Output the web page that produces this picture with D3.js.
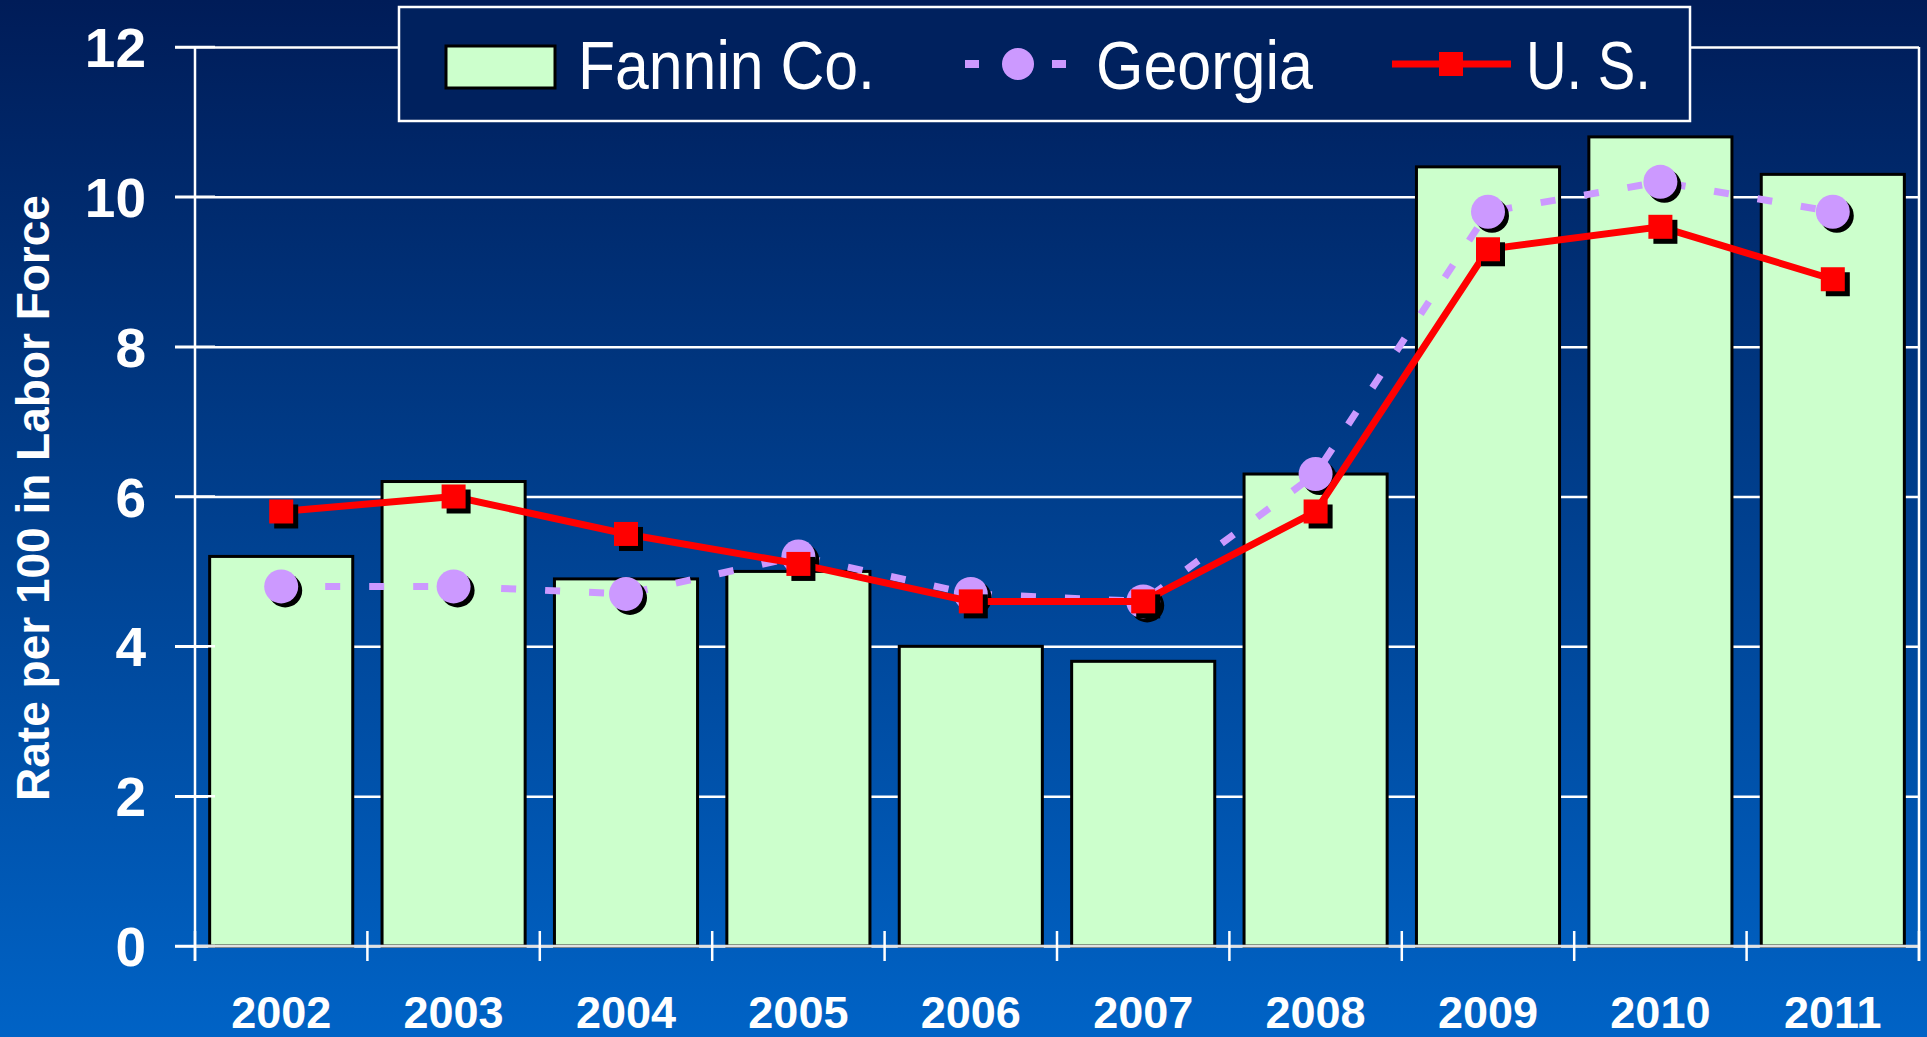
<!DOCTYPE html>
<html>
<head>
<meta charset="utf-8">
<script src="https://cdn.jsdelivr.net/npm/d3@7"></script>
<style>
  html, body { margin: 0; padding: 0; background: #0050a8; }
  svg { display: block; }
</style>
</head>
<body>
<svg id="chart" width="1927" height="1037"></svg>
<script>

// data
var years = ["2002", "2003", "2004", "2005", "2006", "2007", "2008", "2009", "2010", "2011"];
var fannin = [5.2, 6.2, 4.9, 5.0, 4.0, 3.8, 6.3, 10.4, 10.8, 10.3];
var georgia = [4.8, 4.8, 4.7, 5.2, 4.7, 4.6, 6.3, 9.8, 10.2, 9.8];
var us = [5.8, 6.0, 5.5, 5.1, 4.6, 4.6, 5.8, 9.3, 9.6, 8.9];
var yTicks = [0, 2, 4, 6, 8, 10, 12];

var svg = d3.select("#chart");
var W = 1927, H = 1037;

// plot area (note: "top" is reserved on window)
var plotLeft = 195, plotRight = 1919, plotTop = 47, plotBottom = 946;

// background gradient
var defs = svg.append("defs");
var grad = defs.append("linearGradient")
    .attr("id", "bg")
    .attr("x1", 0).attr("y1", 0)
    .attr("x2", 0).attr("y2", 1);
grad.append("stop").attr("offset", "0%").attr("stop-color", "#001c58");
grad.append("stop").attr("offset", "50%").attr("stop-color", "#00408f");
grad.append("stop").attr("offset", "100%").attr("stop-color", "#0063c6");

svg.append("rect")
    .attr("width", W).attr("height", H)
    .attr("fill", "url(#bg)");

var x = d3.scaleBand()
    .domain(years)
    .range([plotLeft, plotRight])
    .paddingInner(0.17)
    .paddingOuter(0.085);

var y = d3.scaleLinear()
    .domain([0, 12])
    .range([plotBottom, plotTop]);

// gridlines
var grid = svg.append("g")
    .attr("transform", "translate(" + plotLeft + ",0)")
    .call(d3.axisLeft(y).tickValues(yTicks).tickSize(0).tickFormat(""));
grid.select(".domain").remove();
grid.selectAll(".tick line")
    .attr("x1", -20)
    .attr("x2", plotRight - plotLeft)
    .attr("stroke", "white")
    .attr("stroke-width", 2.5);

// bars
svg.append("g")
    .selectAll("rect")
    .data(fannin)
    .join("rect")
    .attr("x", function (d, i) { return x(years[i]); })
    .attr("y", function (d) { return y(d); })
    .attr("width", x.bandwidth())
    .attr("height", function (d) { return y(0) - y(d); })
    .attr("fill", "#ccffcc")
    .attr("stroke", "black")
    .attr("stroke-width", 3);

// y tick stubs over bars
svg.append("g")
    .selectAll("line")
    .data(yTicks)
    .join("line")
    .attr("x1", plotLeft - 20)
    .attr("x2", plotLeft + 20)
    .attr("y1", function (d) { return y(d); })
    .attr("y2", function (d) { return y(d); })
    .attr("stroke", "white")
    .attr("stroke-width", 2.5);

// y axis line and right border
svg.append("line")
    .attr("x1", plotLeft).attr("x2", plotLeft)
    .attr("y1", plotTop).attr("y2", plotBottom + 15)
    .attr("stroke", "white").attr("stroke-width", 2.5);
svg.append("line")
    .attr("x1", plotRight).attr("x2", plotRight)
    .attr("y1", plotTop).attr("y2", plotBottom + 15)
    .attr("stroke", "white").attr("stroke-width", 2.5);

// x axis
var boundaries = d3.range(years.length + 1).map(function (i) { return plotLeft + i * x.step(); });

svg.append("line")
    .attr("x1", plotLeft).attr("x2", plotRight)
    .attr("y1", plotBottom).attr("y2", plotBottom)
    .attr("stroke", "#e0e0e0").attr("stroke-width", 2.5);

svg.append("g")
    .selectAll("line")
    .data(boundaries)
    .join("line")
    .attr("x1", function (d) { return d; })
    .attr("x2", function (d) { return d; })
    .attr("y1", plotBottom - 15)
    .attr("y2", plotBottom + 15)
    .attr("stroke", "white")
    .attr("stroke-width", 2.5);

// y tick labels
svg.append("g")
    .selectAll("text")
    .data(yTicks)
    .join("text")
    .attr("x", 146)
    .attr("y", function (d) { return y(d) + 20; })
    .attr("text-anchor", "end")
    .attr("fill", "white")
    .attr("font-family", "Liberation Sans, Arial, sans-serif")
    .attr("font-weight", "bold")
    .attr("font-size", "55px")
    .text(function (d) { return d; });

// x tick labels
svg.append("g")
    .selectAll("text")
    .data(years)
    .join("text")
    .attr("x", function (d) { return x(d) + x.bandwidth() / 2; })
    .attr("y", 1028)
    .attr("text-anchor", "middle")
    .attr("fill", "white")
    .attr("font-family", "Liberation Sans, Arial, sans-serif")
    .attr("font-weight", "bold")
    .attr("font-size", "45px")
    .text(function (d) { return d; });

// y title
svg.append("text")
    .attr("transform", "translate(49,498) rotate(-90)")
    .attr("text-anchor", "middle")
    .attr("fill", "white")
    .attr("font-family", "Liberation Sans, Arial, sans-serif")
    .attr("font-weight", "bold")
    .attr("font-size", "46px")
    .text("Rate per 100 in Labor Force");

var cx = function (d, i) { return x(years[i]) + x.bandwidth() / 2; };

var line = d3.line()
    .x(function (d, i) { return cx(d, i); })
    .y(function (d) { return y(d); });

// Georgia line
svg.append("path")
    .attr("d", line(georgia))
    .attr("fill", "none")
    .attr("stroke", "#cc99ff")
    .attr("stroke-width", 7)
    .attr("stroke-dasharray", "15,29");

// Georgia markers
var gm = svg.append("g");
gm.selectAll(".shadow")
    .data(georgia)
    .join("circle")
    .attr("class", "shadow")
    .attr("cx", function (d, i) { return cx(d, i) + 4; })
    .attr("cy", function (d) { return y(d) + 4; })
    .attr("r", 17)
    .attr("fill", "black");
gm.selectAll(".dot")
    .data(georgia)
    .join("circle")
    .attr("class", "dot")
    .attr("cx", function (d, i) { return cx(d, i); })
    .attr("cy", function (d) { return y(d); })
    .attr("r", 17)
    .attr("fill", "#cc99ff");

// US line
svg.append("path")
    .attr("d", line(us))
    .attr("fill", "none")
    .attr("stroke", "#ff0000")
    .attr("stroke-width", 7);

var um = svg.append("g");
um.selectAll(".shadow")
    .data(us)
    .join("rect")
    .attr("class", "shadow")
    .attr("x", function (d, i) { return cx(d, i) - 12 + 5; })
    .attr("y", function (d) { return y(d) - 12 + 5; })
    .attr("width", 24).attr("height", 24)
    .attr("fill", "black");
um.selectAll(".sq")
    .data(us)
    .join("rect")
    .attr("class", "sq")
    .attr("x", function (d, i) { return cx(d, i) - 12; })
    .attr("y", function (d) { return y(d) - 12; })
    .attr("width", 24).attr("height", 24)
    .attr("fill", "#ff0000");

// legend
var legend = svg.append("g");
legend.append("rect")
    .attr("x", 399).attr("y", 7)
    .attr("width", 1291).attr("height", 114)
    .attr("fill", "#00215e")
    .attr("stroke", "white")
    .attr("stroke-width", 2.5);

legend.append("rect")
    .attr("x", 446).attr("y", 46)
    .attr("width", 109).attr("height", 42)
    .attr("fill", "#ccffcc")
    .attr("stroke", "black")
    .attr("stroke-width", 3);

legend.append("line")
    .attr("x1", 965).attr("x2", 1066)
    .attr("y1", 64).attr("y2", 64)
    .attr("stroke", "#cc99ff")
    .attr("stroke-width", 8)
    .attr("stroke-dasharray", "14,73");
legend.append("circle")
    .attr("cx", 1018).attr("cy", 64).attr("r", 16)
    .attr("fill", "#cc99ff");

legend.append("line")
    .attr("x1", 1392).attr("x2", 1511)
    .attr("y1", 64).attr("y2", 64)
    .attr("stroke", "#ff0000")
    .attr("stroke-width", 7);
legend.append("rect")
    .attr("x", 1439).attr("y", 52)
    .attr("width", 24).attr("height", 24)
    .attr("fill", "#ff0000");

var legendLabels = [
    { text: "Fannin Co.", x: 578, w: 297 },
    { text: "Georgia", x: 1096, w: 217 },
    { text: "U. S.", x: 1526, w: 125 }
];

legend.selectAll(".ltext")
    .data(legendLabels)
    .join("text")
    .attr("class", "ltext")
    .attr("x", function (d) { return d.x; })
    .attr("y", 89)
    .attr("fill", "white")
    .attr("font-family", "Liberation Sans Narrow, Arial Narrow, Liberation Sans, sans-serif")
    .attr("font-size", "69px")
    .attr("textLength", function (d) { return d.w; })
    .attr("lengthAdjust", "spacingAndGlyphs")
    .text(function (d) { return d.text; });

</script>
</body>
</html>
